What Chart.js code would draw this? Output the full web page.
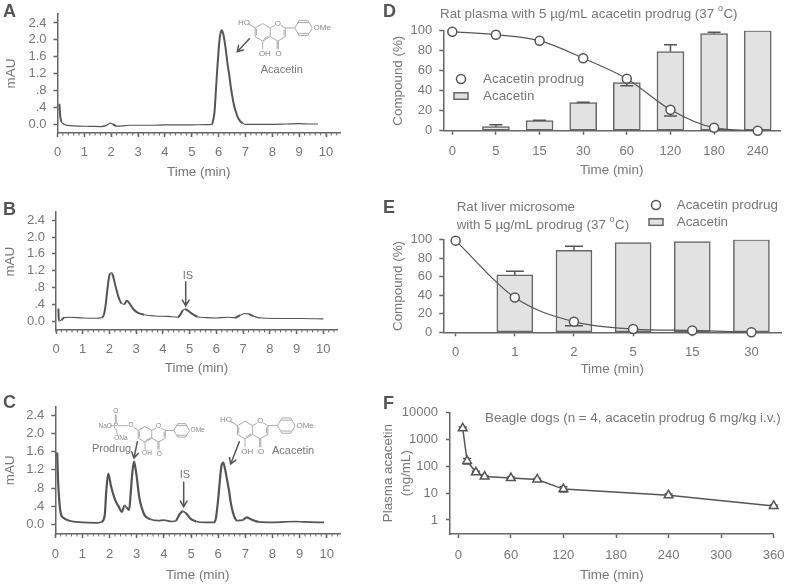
<!DOCTYPE html>
<html><head><meta charset="utf-8">
<style>html,body{margin:0;padding:0;background:#fff;width:787px;height:585px;overflow:hidden}
canvas{position:absolute;left:0;top:0}</style>
<script src="https://cdn.jsdelivr.net/npm/chart.js@4"></script>
</head><body>
<script>
const aTimes=[0.07,0.1,0.15,0.2,0.3,0.5,0.8,1.2,1.6,1.8,1.9,1.97,2.05,2.2,2.5,2.7,3,3.5,4,4.5,5,5.5,5.75,5.8,5.85,5.9,5.95,6,6.05,6.12,6.18,6.25,6.3,6.35,6.4,6.45,6.5,6.55,6.6,6.65,6.7,6.8,6.9,7,7.5,8,8.5,9,9.4,9.7];
const aValues=[0.48,0.2,0.05,0.01,-0.02,-0.04,-0.05,-0.055,-0.06,-0.04,0,0.02,0,-0.05,-0.04,-0.03,-0.03,-0.03,-0.02,-0.02,-0.02,-0.015,-0.01,0.1,0.3,0.8,1.3,1.75,2.08,2.23,2.12,1.85,1.6,1.35,1.15,0.9,0.7,0.52,0.38,0.28,0.18,0.07,0.02,-0.01,-0.01,-0.01,0,0.01,0,0];
const bTimes=[0.09,0.1,0.12,0.2,0.3,0.5,1,1.5,1.7,1.78,1.85,1.9,1.96,2.02,2.07,2.13,2.2,2.28,2.35,2.45,2.55,2.65,2.75,2.9,3.05,3.3,3.7,4.2,4.55,4.65,4.75,4.82,4.95,5.1,5.3,5.6,6,6.4,6.7,6.9,7.05,7.2,7.4,7.7,8.5,9.2,10];
const bValues=[0.3,0.1,0,0.02,0.08,0.09,0.07,0.065,0.08,0.13,0.35,0.62,0.95,1.13,1.15,1.08,0.9,0.7,0.55,0.42,0.4,0.48,0.42,0.28,0.2,0.15,0.12,0.11,0.09,0.15,0.26,0.28,0.24,0.17,0.1,0.08,0.07,0.09,0.08,0.14,0.18,0.17,0.11,0.07,0.06,0.06,0.05];
const cTimes=[0.07,0.1,0.15,0.2,0.3,0.5,1,1.5,1.7,1.82,1.88,1.95,2.05,2.2,2.35,2.45,2.55,2.62,2.72,2.78,2.84,2.9,2.95,3,3.05,3.1,3.18,3.3,3.5,3.8,4,4.3,4.45,4.55,4.7,4.8,5,5.2,5.5,5.85,5.92,6,6.06,6.12,6.19,6.26,6.33,6.4,6.46,6.54,6.62,6.7,6.9,7.05,7.2,7.5,8,8.85,9.2,9.9];
const cValues=[1.58,1,0.5,0.25,0.15,0.09,0.05,0.04,0.06,0.2,0.75,1.12,0.85,0.55,0.38,0.28,0.42,0.38,0.32,0.7,1.15,1.38,1.25,1.05,0.8,0.58,0.38,0.2,0.12,0.09,0.1,0.07,0.09,0.2,0.29,0.26,0.12,0.07,0.05,0.05,0.15,0.55,0.95,1.28,1.36,1.2,0.98,0.75,0.5,0.28,0.14,0.09,0.1,0.16,0.12,0.06,0.05,0.07,0.06,0.05];
const mauTicks=[0,0.4,0.8,1.2,1.6,2,2.4];
const mauLabels=['0.0','.4','.8','1.2','1.6','2.0','2.4'];
const minTicks=[0,1,2,3,4,5,6,7,8,9,10];

const dCategories=['0','5','15','30','60','120','180','240'];
const dProdrug=[99,96,90,72.5,52,21,3,0];
const dProdrugLow=[null,null,null,null,45,14.7,null,null];
const dAcacetin=[null,4,10,28,48,79,97,100];
const dAcacetinHigh=[null,6,10.5,28.5,null,86,98.5,null];

const eCategories=['0','1','2','5','15','30'];
const eProdrug=[99,37.5,11.5,3.5,2,0];
const eProdrugLow=[null,null,7,null,null,null];
const eAcacetin=[null,62,88.5,97,98,100];
const eAcacetinHigh=[null,66,93,null,null,null];
const pctTicks=[0,20,40,60,80,100];

const fTimes=[5,10,20,30,60,90,120,240,360];
const fValues=[2540,155,59,41,36,32,14,8.2,3.3];
const fErrors=[300,35,5,3,3,3,3,1,0.3];
const fYTicks=[1,10,100,1000,10000];
const fXTicks=[0,60,120,180,240,300,360];

const W=787,H=585,FONT='"Liberation Sans",Arial,sans-serif';
const TXT='#777',AX='#666',LINE='#555',BAR='#e2e2e2';
Chart.defaults.font.family=FONT;Chart.defaults.font.size=13;Chart.defaults.color=TXT;

function mk(){const c=document.createElement('canvas');c.width=W;c.height=H;c.style.width=W+'px';c.style.height=H+'px';document.body.appendChild(c);return c.getContext('2d');}
function text(ctx,s,x,y,o={}){ctx.save();ctx.font=(o.bold?'bold ':'')+(o.size||13.4)+'px '+FONT;ctx.fillStyle=o.color||TXT;ctx.textAlign=o.align||'left';ctx.textBaseline='middle';if(o.rot){ctx.translate(x,y);ctx.rotate(o.rot);ctx.fillText(s,0,0);}else ctx.fillText(s,x,y);ctx.restore();}
function arrow(ctx,x1,y1,x2,y2){ctx.save();ctx.strokeStyle='#555';ctx.lineWidth=1.5;ctx.lineCap='round';ctx.beginPath();ctx.moveTo(x1,y1);ctx.lineTo(x2,y2);const a=Math.atan2(y2-y1,x2-x1),h=6.5;ctx.moveTo(x2-h*Math.cos(a-0.55),y2-h*Math.sin(a-0.55));ctx.lineTo(x2,y2);ctx.lineTo(x2-h*Math.cos(a+0.55),y2-h*Math.sin(a+0.55));ctx.stroke();ctx.restore();}
function titleDeg(ctx,s,x,y){ctx.save();ctx.font='13.4px '+FONT;const w=ctx.measureText(s).width;ctx.restore();text(ctx,s,x,y);text(ctx,'o',x+w,y-5,{size:9});text(ctx,'C)',x+w+5.5,y);}

function flavone(ctx,cx,cy,s,opts){
  const P=(a,b)=>[cx+a*s,cy+b*s],h=0.866;
  const ring=(x0,y0,flat)=>{const v=[];for(let i=0;i<6;i++){const a=(flat?0:30)*Math.PI/180+i*Math.PI/3;v.push([x0+Math.cos(a),y0+Math.sin(a)]);}return v;};
  const seg=(a,b)=>{const p=P(a[0],a[1]),q=P(b[0],b[1]);ctx.moveTo(p[0],p[1]);ctx.lineTo(q[0],q[1]);};
  ctx.save();ctx.strokeStyle='#a0a0a0';ctx.lineWidth=0.9;ctx.beginPath();
  const A=ring(0,0,false),cC=[2*h,0],C=ring(cC[0],cC[1],false),bx=2*h+h+1.1+1,B=ring(bx,-0.5,true);
  const loop=(v,skip)=>{for(let i=0;i<6;i++){if(skip&&skip.includes(i))continue;seg(v[i],v[(i+1)%6]);}};
  loop(A);loop(C,[2]);
  seg([3*h,-0.5],[bx-1,-0.5]);loop(B);
  seg([-h+0.15,-0.35],[-h+0.15,0.35]);seg([0.12,0.92-0.12],[h-0.18,0.42]);seg([2*h+h-0.15,-0.3],[2*h+h-0.15,0.35]);
  seg([bx-0.6,-0.5-0.62],[bx+0.6,-0.5-0.62]);seg([bx-0.6,-0.5+0.62],[bx+0.6,-0.5+0.62]);
  seg([0,1],[0,1.9]);seg([2*h-0.07,1],[2*h-0.07,1.95]);seg([2*h+0.07,1],[2*h+0.07,1.95]);
  ctx.stroke();
  const f=opts.font,tc='#888';
  const tl=(t,a,b,al)=>{const p=P(a,b);ctx.save();ctx.fillStyle='#fff';ctx.font=f+'px '+FONT;const w=ctx.measureText(t).width;if(t==='O')ctx.fillRect(p[0]-w/2,p[1]-f/2,w,f);ctx.restore();text(ctx,t,p[0],p[1],{size:f,color:tc,align:al||'center'});};
  tl('O',2*h,-1);
  tl('OMe',bx+1.15,-0.5,'left');
  tl('OH',0.25,2.45);
  tl('O',2*h+0.1,2.5);
  ctx.beginPath();
  if(opts.prodrug){
    seg([-h,-0.5],[-1.55,-1.0]);seg([-2.05,-1.1],[-3.45,-1.1]);seg([-3.8,-1.45],[-3.8,-2.55]);seg([-3.7,-1.45],[-3.7,-2.55]);seg([-3.75,-0.8],[-3.55,0.05]);seg([-4.0,-1.1],[-4.5,-1.1]);
    ctx.stroke();
    tl('O',-1.8,-1.15);tl('P',-3.72,-1.1);tl('O',-3.75,-2.95);
    tl('NaO',-5.1,-1.1);tl('ONa',-3.1,0.45);
  }else{
    seg([-h,-0.5],[-1.65,-1.0]);ctx.stroke();
    tl('HO',-2.15,-1.12);
  }
  ctx.restore();
}

function errorBars(ctx,xS,yS,xs,vals,ends,cap,color){ctx.save();ctx.strokeStyle=color||LINE;ctx.lineWidth=1.5;ctx.beginPath();
  xs.forEach((x,i)=>{if(ends[i]==null)return;const px=xS.getPixelForValue(x),p0=yS.getPixelForValue(vals[i]),p1=yS.getPixelForValue(ends[i]);ctx.moveTo(px,p0);ctx.lineTo(px,p1);ctx.moveTo(px-cap,p1);ctx.lineTo(px+cap,p1);});
  ctx.stroke();ctx.restore();}

function frame(p){return {
  layout:{padding:{left:p.l-p.yW,top:p.t,right:W-p.r,bottom:H-p.b-p.xH}},
  responsive:false,animation:false,events:[],
  plugins:{legend:{display:false},tooltip:{enabled:false},title:{display:false}}
};}
function axisBase(){return {
  grid:{display:true,drawOnChartArea:false,drawTicks:true,tickLength:4,tickColor:AX,tickWidth:1.5,offset:false},
  border:{display:true,color:AX,width:1.5}
};}
function yScale(p,tickVals,labelFn,title,type){return Object.assign(axisBase(),{
  type:type||'linear',position:'left',min:p.ymin,max:p.ymax,
  afterFit(s){s.width=p.yW;s.paddingTop=0;s.paddingBottom=0;},
  afterBuildTicks(s){s.ticks=tickVals.map(v=>({value:v}));},
  ticks:{padding:p.yPad||7,autoSkip:false,callback:labelFn},
  title:title?{display:true,text:title,padding:0,font:p.yFont||{size:13.4}}:{display:false}
});}
function xScale(p,tickVals,labelFn,title){return Object.assign(axisBase(),{
  type:'linear',position:'bottom',offset:false,min:p.xmin,max:p.xmax,
  afterFit(s){s.height=p.xH;s.paddingLeft=0;s.paddingRight=0;},
  afterBuildTicks(s){s.ticks=tickVals.map(v=>({value:v}));},
  ticks:{padding:p.xPad,autoSkip:false,maxRotation:0,callback:labelFn},
  title:{display:true,text:title,padding:0,font:{size:13.4}}
});}

function chromatogram(times,vals,p,draw,yTitle,thin,thick){
  const data=times.map((t,i)=>({x:t,y:vals[i]}));
  const minor={id:'minor',afterDraw(ch){const c=ch.ctx,s=ch.scales.x;c.save();c.strokeStyle=AX;c.lineWidth=1;c.beginPath();
    for(let i=0;i*0.2<=p.xmax;i++){const x=s.getPixelForValue(i*0.2);c.moveTo(x,s.top);c.lineTo(x,s.top+2.5);}c.stroke();c.restore();}};
  const deco={id:'deco',afterDraw(ch){draw(ch.ctx);}};
  new Chart(mk(),{type:'line',data:{datasets:[{data,borderColor:LINE,borderWidth:thin,pointRadius:0,cubicInterpolationMode:'monotone',clip:false,
    segment:{borderWidth:c=>Math.abs(c.p1.parsed.y-c.p0.parsed.y)>0.04?thick:thin}}]},
    options:Object.assign(frame(p),{scales:{
      x:xScale(p,minTicks,v=>String(v),'Time (min)'),
      y:yScale(p,mauTicks,v=>mauLabels[mauTicks.indexOf(v)],yTitle)}}),plugins:[minor,deco]});
}
function span(p){const u=(p.y0-p.y24)/2.4;p.ymin=-(p.b-p.y0)/u;p.ymax=(p.y0-p.t)/u;const m=(p.x10-p.l)/10;p.xmin=0;p.xmax=(p.r-p.l)/m;return p;}

const pA=span({l:57.5,r:340,t:14,b:133,y0:124,y24:23,x10:326,yW:54.3,xH:47.8,xPad:8});
chromatogram(aTimes,aValues,pA,c=>{
  text(c,'A',3,12,{bold:true,size:18,color:'#555'});
  arrow(c,249.3,38.7,237.3,51.7);
  flavone(c,262.7,32.3,8.7,{font:8});
  text(c,'Acacetin',260.7,70,{size:11});
},'mAU',1.2,2);

const pB=span({l:56,r:337,t:211.7,b:330,y0:321,y24:220.3,x10:323.3,yW:53.8,xH:46.8,xPad:8});
chromatogram(bTimes,bValues,pB,c=>{
  text(c,'B',3,210,{bold:true,size:18,color:'#555'});
  text(c,'mAU',10,261.7,{align:'center',rot:-Math.PI/2});
  text(c,'IS',188,275.7,{align:'center',size:11});
  arrow(c,185.7,281.7,185.7,305.7);
},null,1.1,2);

const pC=span({l:55.3,r:340,t:406.7,b:534,y0:524.7,y24:415,x10:326.7,yW:53.5,xH:49,xPad:8.7});
chromatogram(cTimes,cValues,pC,c=>{
  text(c,'C',3,403,{bold:true,size:18,color:'#555'});
  flavone(c,145,434.3,7.8,{font:6.5,prodrug:true});
  text(c,'Prodrug',92,449,{size:11});
  arrow(c,137.3,441.7,134,458);
  text(c,'IS',185,475,{align:'center',size:11});
  arrow(c,183.7,482.3,183.7,506.7);
  flavone(c,245,430,8.8,{font:8});
  text(c,'Acacetin',272,451,{size:11});
  arrow(c,239.3,441.7,230.7,464);
},'mAU',1.7,2.2);

function groupPanel(cats,prod,prodLow,ac,acHigh,p,barW,cap,draw){
  const idx=cats.map((_,i)=>i);
  const errs={id:'errs',afterDatasetDraw(ch,a){if(a.index!==1)return;const c=ch.ctx,x=ch.scales.x,y=ch.scales.y;
    errorBars(c,x,y,idx,ac,acHigh,cap);errorBars(c,x,y,idx,prod,prodLow,cap);}};
  const deco={id:'deco',afterDraw(ch){draw(ch.ctx);}};
  new Chart(mk(),{type:'bar',data:{datasets:[
    {type:'line',label:'Acacetin prodrug',data:idx.map(i=>({x:i,y:prod[i]})),borderColor:LINE,borderWidth:1.2,cubicInterpolationMode:'monotone',pointRadius:4.5,pointBorderWidth:1.5,pointBackgroundColor:'#fff',pointBorderColor:LINE,clip:false,order:0},
    {type:'bar',label:'Acacetin',data:idx.filter(i=>ac[i]!=null).map(i=>({x:i,y:ac[i]})),backgroundColor:BAR,borderColor:AX,borderWidth:1.5,borderSkipped:false,barThickness:barW,order:1}
  ]},options:Object.assign(frame(p),{scales:{
    x:xScale(p,idx,v=>cats[v],'Time (min)'),
    y:yScale(p,pctTicks,v=>String(v),'Compound (%)')}}),plugins:[errs,deco]});
}
function legendD(c,cx,cy1,tx,cy2){
  c.save();c.strokeStyle=LINE;c.lineWidth=1.5;c.fillStyle='#fff';c.beginPath();c.arc(cx,cy1,4.5,0,7);c.fill();c.stroke();
  c.fillStyle=BAR;c.strokeStyle=AX;c.fillRect(cx-7,cy2-3.2,14,6.5);c.strokeRect(cx-7,cy2-3.2,14,6.5);c.restore();
  text(c,'Acacetin prodrug',tx,cy1);text(c,'Acacetin',tx,cy2);
}
const pD={l:443.3,r:780,t:30.7,b:130.7,yW:53.4,xH:48,xPad:9,ymin:0,ymax:100,xmin:(443.3-452.3)/43.63,xmax:(780-452.3)/43.63};
groupPanel(dCategories,dProdrug,dProdrugLow,dAcacetin,dAcacetinHigh,pD,27,6.5,c=>{
  text(c,'D',383,12,{bold:true,size:18,color:'#555'});
  titleDeg(c,'Rat plasma with 5 \u00b5g/mL acacetin prodrug (37 ',440,14);
  legendD(c,461,79,483,96);
});
const pE={l:443.3,r:781.7,t:239.7,b:332.3,yW:53.4,xH:45.5,xPad:8,ymin:0,ymax:100,xmin:(443.3-455.7)/59.27,xmax:(781.7-455.7)/59.27};
groupPanel(eCategories,eProdrug,eProdrugLow,eAcacetin,eAcacetinHigh,pE,36,9,c=>{
  text(c,'E',383,208,{bold:true,size:18,color:'#555'});
  text(c,'Rat liver microsome',456.7,207);
  titleDeg(c,'with 5 \u00b5g/mL prodrug (37 ',456.7,225);
  legendD(c,656,205,676.7,222);
});

const pF={l:450,r:773.7,t:412.3,b:534,yW:71.5,xH:49.8,xPad:10,ymin:Math.pow(10,-14/26.92),ymax:10000,xmin:-9.53,xmax:360,yPad:8,yFont:{size:13.4,lineHeight:1.4}};
new Chart(mk(),{type:'line',data:{datasets:[{label:'Plasma acacetin',data:fTimes.map((t,i)=>({x:t,y:fValues[i]})),borderColor:LINE,borderWidth:1.5,tension:0,
  pointStyle:'triangle',pointRadius:5,pointBorderWidth:1.5,pointBackgroundColor:'#fff',pointBorderColor:LINE,clip:false}]},
  options:Object.assign(frame(pF),{scales:{
    x:xScale(pF,fXTicks,v=>String(v),'Time (min)'),
    y:yScale(pF,fYTicks,v=>String(v),['Plasma acacetin','(ng/mL)'],'logarithmic')}}),
  plugins:[{id:'errs',beforeDatasetsDraw(ch){const s=ch.scales;errorBars(ch.ctx,s.x,s.y,fTimes,fValues,fValues.map((v,i)=>v+fErrors[i]),4);errorBars(ch.ctx,s.x,s.y,fTimes,fValues,fValues.map((v,i)=>v-fErrors[i]),4);}},
    {id:'deco',afterDraw(ch){const c=ch.ctx;text(c,'F',383,404,{bold:true,size:18,color:'#555'});text(c,'Beagle dogs (n = 4, acacetin prodrug 6 mg/kg i.v.)',485,418);}}]});
</script>
</body></html>
